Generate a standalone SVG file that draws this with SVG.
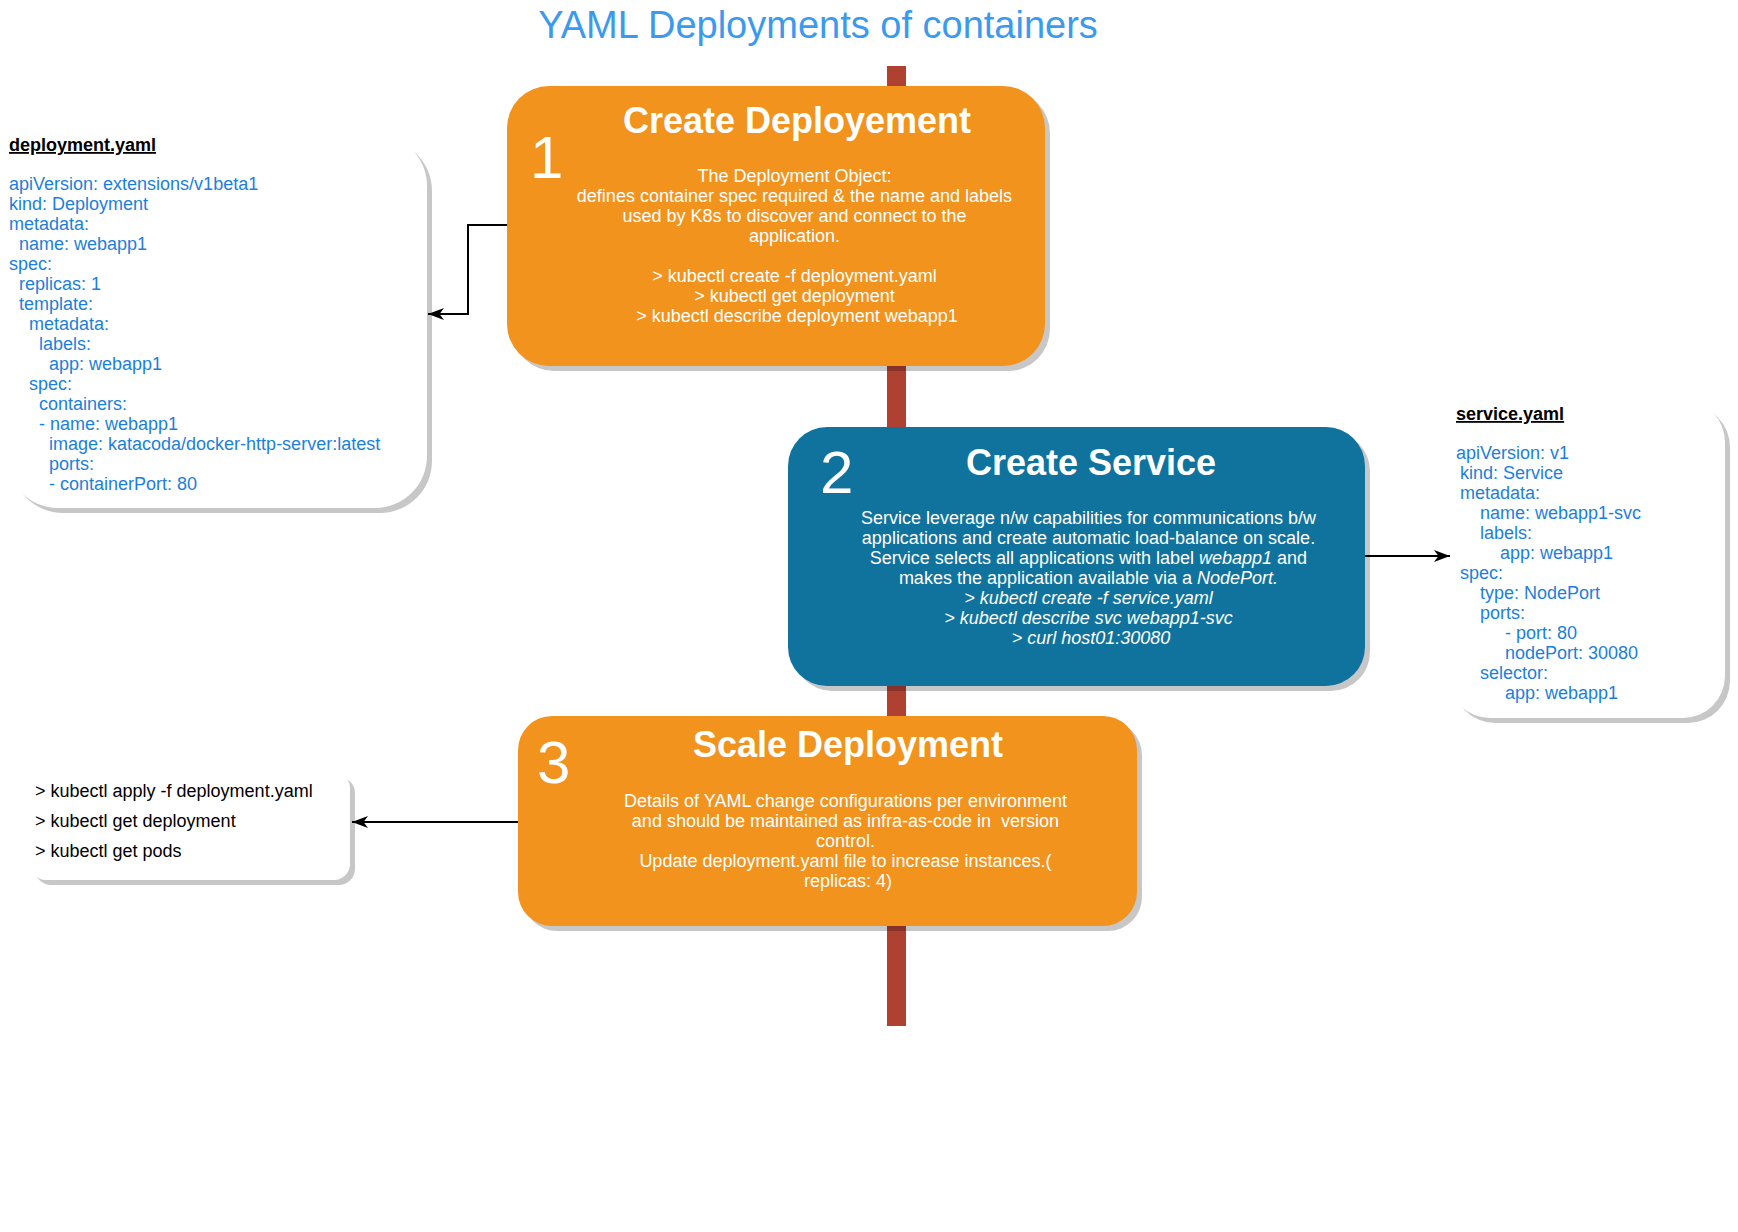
<svg xmlns="http://www.w3.org/2000/svg" width="1738" height="1232" viewBox="0 0 1738 1232">
<style>
text{font-family:"Liberation Sans",Arial,Helvetica,sans-serif;}
.title{font-size:38px;fill:#3C9AEE;}
.head{font-size:36px;font-weight:bold;fill:#FFFFFF;}
.num{font-size:60px;fill:#FFFFFF;}
.body{font-size:18px;fill:#FFFFFF;}
.yaml{font-size:18px;fill:#1B7FDB;}
.yhead{font-size:18px;font-weight:bold;fill:#000000;text-decoration:underline;}
.cmd{font-size:18px;fill:#000000;}
.shadow{fill:#000000;opacity:0.22;}
.note{fill:#FFFFFF;}
.conn{fill:none;stroke:#000000;stroke-width:2;}
</style>
<defs>
<marker id="arrow" viewBox="0 0 16 12" refX="16" refY="6" markerWidth="16" markerHeight="12" markerUnits="userSpaceOnUse" orient="auto">
<path d="M0,0 L16,6 L0,12 L4.5,6 Z" fill="#000000"/>
</marker>
</defs>
<rect x="0" y="0" width="1738" height="1232" fill="#FFFFFF"/>
<text class="title" x="818" y="38" text-anchor="middle">YAML Deployments of containers</text>
<g id="timeline">
<rect x="887" y="66" width="19" height="960" fill="#AE4132"/>
</g>
<g id="deployment-yaml">
<rect class="shadow" x="11" y="139" width="421" height="374" rx="52"/>
<rect class="note" x="6" y="134" width="421" height="374" rx="52"/>
<text class="yhead" x="9" y="151">deployment.yaml</text>
<text class="yaml">
<tspan x="9" y="190">apiVersion: extensions/v1beta1</tspan>
<tspan x="9" y="210">kind: Deployment</tspan>
<tspan x="9" y="230">metadata:</tspan>
<tspan x="19" y="250">name: webapp1</tspan>
<tspan x="9" y="270">spec:</tspan>
<tspan x="19" y="290">replicas: 1</tspan>
<tspan x="19" y="310">template:</tspan>
<tspan x="29" y="330">metadata:</tspan>
<tspan x="39" y="350">labels:</tspan>
<tspan x="49" y="370">app: webapp1</tspan>
<tspan x="29" y="390">spec:</tspan>
<tspan x="39" y="410">containers:</tspan>
<tspan x="39" y="430">- name: webapp1</tspan>
<tspan x="49" y="450">image: katacoda/docker-http-server:latest</tspan>
<tspan x="49" y="470">ports:</tspan>
<tspan x="49" y="490">- containerPort: 80</tspan>
</text>
</g>
<g id="service-yaml">
<rect class="shadow" x="1453" y="405" width="277" height="318" rx="42"/>
<rect class="note" x="1448" y="400" width="277" height="318" rx="42"/>
<text class="yhead" x="1456" y="420">service.yaml</text>
<text class="yaml">
<tspan x="1456" y="459">apiVersion: v1</tspan>
<tspan x="1460" y="479">kind: Service</tspan>
<tspan x="1460" y="499">metadata:</tspan>
<tspan x="1480" y="519">name: webapp1-svc</tspan>
<tspan x="1480" y="539">labels:</tspan>
<tspan x="1500" y="559">app: webapp1</tspan>
<tspan x="1460" y="579">spec:</tspan>
<tspan x="1480" y="599">type: NodePort</tspan>
<tspan x="1480" y="619">ports:</tspan>
<tspan x="1505" y="639">- port: 80</tspan>
<tspan x="1505" y="659">nodePort: 30080</tspan>
<tspan x="1480" y="679">selector:</tspan>
<tspan x="1505" y="699">app: webapp1</tspan>
</text>
</g>
<g id="commands">
<rect class="shadow" x="35" y="777" width="320" height="108" rx="16"/>
<rect class="note" x="30" y="772" width="320" height="108" rx="16"/>
<text class="cmd">
<tspan x="35" y="797">&gt; kubectl apply -f deployment.yaml</tspan>
<tspan x="35" y="827">&gt; kubectl get deployment</tspan>
<tspan x="35" y="857">&gt; kubectl get pods</tspan>
</text>
</g>
<g id="step1">
<rect class="shadow" x="512" y="91" width="538" height="280" rx="42"/>
<rect x="507" y="86" width="538" height="280" rx="42" fill="#F2931E"/>
<text class="num" x="530" y="178">1</text>
<text class="head" x="797" y="133" text-anchor="middle">Create Deployement</text>
<text class="body" text-anchor="middle">
<tspan x="797" y="182">The Deployment Object:</tspan>
<tspan x="797" y="202">defines container spec required &amp; the name and labels</tspan>
<tspan x="797" y="222">used by K8s to discover and connect to the</tspan>
<tspan x="797" y="242">application.</tspan>
<tspan x="797" y="282">&gt; kubectl create -f deployment.yaml</tspan>
<tspan x="797" y="302">&gt; kubectl get deployment</tspan>
<tspan x="797" y="322">&gt; kubectl describe deployment webapp1</tspan>
</text>
</g>
<g id="step2">
<rect class="shadow" x="793" y="432" width="577" height="259" rx="39"/>
<rect x="788" y="427" width="577" height="259" rx="39" fill="#10739E"/>
<text class="num" x="820" y="493">2</text>
<text class="head" x="1091" y="475" text-anchor="middle">Create Service</text>
<text class="body" text-anchor="middle">
<tspan x="1091" y="524">Service leverage n/w capabilities for communications b/w</tspan>
<tspan x="1091" y="544">applications and create automatic load-balance on scale.</tspan>
<tspan x="1091" y="564">Service selects all applications with label <tspan font-style="italic">webapp1</tspan> and</tspan>
<tspan x="1091" y="584">makes the application available via a <tspan font-style="italic">NodePort.</tspan></tspan>
<tspan x="1091" y="604" font-style="italic">&gt; kubectl create -f service.yaml</tspan>
<tspan x="1091" y="624" font-style="italic">&gt; kubectl describe svc webapp1-svc</tspan>
<tspan x="1091" y="644" font-style="italic">&gt; curl host01:30080</tspan>
</text>
</g>
<g id="step3">
<rect class="shadow" x="523" y="721" width="619" height="210" rx="34"/>
<rect x="518" y="716" width="619" height="210" rx="34" fill="#F2931E"/>
<text class="num" x="537" y="783">3</text>
<text class="head" x="848" y="757" text-anchor="middle">Scale Deployment</text>
<text class="body" text-anchor="middle">
<tspan x="848" y="807">Details of YAML change configurations per environment</tspan>
<tspan x="848" y="827">and should be maintained as infra-as-code in&#160; version</tspan>
<tspan x="848" y="847">control.</tspan>
<tspan x="848" y="867">Update deployment.yaml file to increase instances.(</tspan>
<tspan x="848" y="887">replicas: 4)</tspan>
</text>
</g>
<g id="connectors">
<path class="conn" d="M507,225 H468 V314 H428" marker-end="url(#arrow)"/>
<path class="conn" d="M1365,556 H1450" marker-end="url(#arrow)"/>
<path class="conn" d="M518,822 H352" marker-end="url(#arrow)"/>
</g>
</svg>
